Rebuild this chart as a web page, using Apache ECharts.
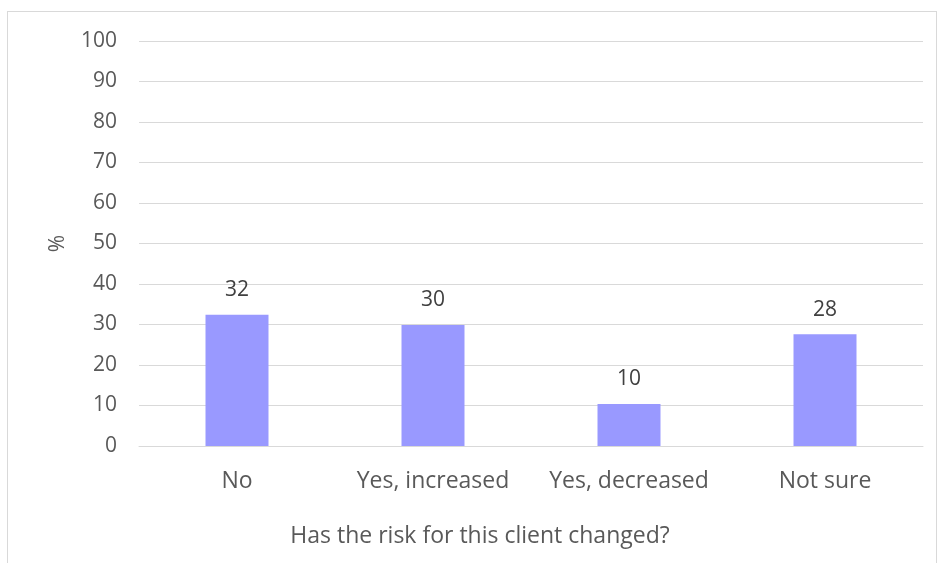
<!DOCTYPE html>
<html>
<head>
<meta charset="utf-8">
<script src="https://cdn.jsdelivr.net/npm/echarts@6/dist/echarts.min.js"></script>
<style>
  html, body { margin: 0; padding: 0; background: #fff; }
  #frame { position: absolute; left: 7px; top: 11px; width: 930px; height: 560px; border: 1px solid #d9d9d9; box-sizing: border-box; }
  #chart { position: absolute; left: 0; top: 0; width: 939px; height: 563px; }
</style>
</head>
<body>
<div id="frame"></div>
<div id="chart"></div>
<script>
const categories = ["No", "Yes, increased", "Yes, decreased", "Not sure"];
const percents = [32.4, 29.9, 10.4, 27.6];
const yTicks = { min: 0, max: 100, interval: 10 };
const xTitle = "Has the risk for this client changed?";

const font = "'Open Sans', sans-serif";
const textColor = "#595959";

let myChart = echarts.init(document.getElementById("chart"));
let option = {
  animation: false,
  // excel centres the axis title on the whole chart, not the plot
  title: {
    text: xTitle,
    left: 475,
    top: 520,
    textAlign: "center",
    textStyle: { fontSize: 23, fontWeight: "normal", color: textColor, fontFamily: font },
  },
  grid: { left: 139, right: 16, top: 41, bottom: 117 },
  xAxis: {
    type: "category",
    data: categories,
    axisLine: { show: true, lineStyle: { color: "#d9d9d9", width: 1 } },
    axisTick: { show: false },
    axisLabel: {
      interval: 0,
      hideOverlap: false,
      fontSize: 23,
      color: textColor,
      fontFamily: font,
      margin: 24,
    },
  },
  yAxis: {
    type: "value",
    min: yTicks.min,
    max: yTicks.max,
    interval: yTicks.interval,
    name: "%",
    nameLocation: "middle",
    nameGap: 70,
    nameRotate: 90,
    nameTextStyle: { fontSize: 21, color: textColor, fontFamily: font },
    axisLine: { show: false },
    axisTick: { show: false },
    axisLabel: { fontSize: 21, color: textColor, fontFamily: font, margin: 22 },
    splitLine: { lineStyle: { color: "#d9d9d9", width: 1 } },
  },
  series: [
    {
      type: "bar",
      data: percents,
      barWidth: 63,
      itemStyle: { color: "#9999ff" },
      label: {
        show: true,
        position: "top",
        distance: 14,
        fontSize: 21,
        color: "#404040",
        fontFamily: font,
        formatter: (p) => Math.round(p.value),
      },
    },
  ],
};
myChart.setOption(option);
</script>
</body>
</html>
